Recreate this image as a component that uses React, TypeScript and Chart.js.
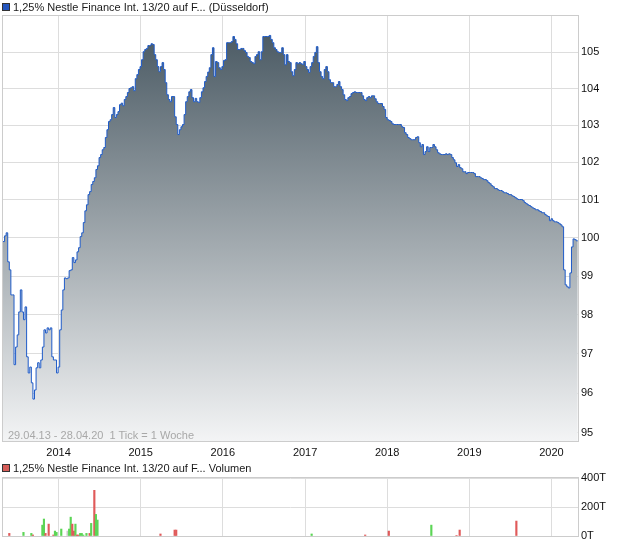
import React, { useEffect, useRef } from "react";
import { Chart, registerables } from "chart.js";

Chart.register(...registerables);

const START = Date.UTC(2013, 3, 29);
const END = Date.UTC(2020, 3, 28);
const WEEK = 7 * 86400000;

const yearTicks = [2014, 2015, 2016, 2017, 2018, 2019, 2020];
const priceTicks = [95, 96, 97, 98, 99, 100, 101, 102, 103, 104, 105];
const volumeTicks = [0, 200, 400];

// weekly closing prices, starting 29.04.2013
const prices = [
  99.9, 100.05, 100.13, 99.37, 99.16, 98.51, 98.51, 96.72, 97.17, 97.48,
  98.07, 98.64, 98.07, 97.87, 98.2, 96.92, 96.51, 96.66, 96.26, 95.85,
  96.08, 96.64, 96.77, 96.64, 96.84, 97.17, 97.61, 97.53, 97.66, 97.61,
  97.66, 96.92, 96.84, 96.84, 96.51, 96.66, 97.61, 98.12, 98.64, 98.95,
  98.93, 98.95, 99.14, 99.16, 99.48, 99.35, 99.42, 99.63, 99.74, 100.03,
  100.13, 100.4, 100.71, 100.87, 101.14, 101.22, 101.41, 101.49, 101.59, 101.81,
  101.91, 102.13, 102.21, 102.34, 102.4, 102.67, 102.88, 103.1, 103.15, 103.29,
  103.48, 103.21, 103.29, 103.37, 103.56, 103.6, 103.53, 103.7, 103.78, 103.89,
  104.0, 104.02, 104.05, 103.94, 104.27, 104.38, 104.52, 104.6, 104.79, 105.01,
  105.07, 105.1, 105.18, 105.18, 105.23, 105.21, 104.93, 104.79, 104.6, 104.46,
  104.6, 104.71, 104.52, 104.16, 103.83, 103.7, 103.64, 103.78, 103.78, 103.23,
  103.02, 102.75, 102.88, 102.96, 103.02, 103.29, 103.64, 103.78, 103.91, 103.97,
  103.75, 103.64, 103.73, 103.64, 103.62, 103.75, 103.91, 104.02, 104.19, 104.33,
  104.45, 104.57, 104.93, 105.12, 104.33, 104.74, 104.71, 104.57, 104.52, 104.6,
  104.77, 104.79, 105.26, 105.26, 105.26, 105.29, 105.43, 105.35, 105.23, 105.07,
  105.07, 105.1, 105.1, 105.04, 104.99, 104.88, 104.85, 104.74, 104.71, 104.68,
  104.88, 104.93, 105.01, 104.79, 105.01, 105.43, 105.43, 105.43, 105.43, 105.46,
  105.35, 105.26, 105.12, 105.07, 105.01, 104.99, 104.99, 105.12, 104.93, 104.65,
  104.93, 104.74, 104.71, 104.46, 104.35, 104.52, 104.71, 104.68, 104.71, 104.68,
  104.66, 104.74, 104.6, 104.52, 104.44, 104.6, 104.71, 104.88, 104.99, 105.15,
  104.71, 104.46, 104.33, 104.27, 104.52, 104.6, 104.46, 104.24, 104.16, 104.16,
  104.05, 104.05, 104.11, 104.19, 104.05, 103.97, 103.83, 103.7, 103.67, 103.75,
  103.78, 103.86, 103.89, 103.91, 103.89, 103.89, 103.89, 103.89, 103.8, 103.7,
  103.67, 103.75, 103.78, 103.75, 103.8, 103.8, 103.72, 103.64, 103.59, 103.59,
  103.59, 103.51, 103.43, 103.21, 103.15, 103.13, 103.1, 103.04, 103.02, 103.02,
  103.02, 103.02, 103.02, 102.96, 102.94, 102.8, 102.75, 102.67, 102.64, 102.61,
  102.61, 102.61, 102.67, 102.69, 102.53, 102.42, 102.48, 102.21, 102.29, 102.42,
  102.29, 102.4, 102.4, 102.48, 102.42, 102.34, 102.26, 102.23, 102.21, 102.21,
  102.21, 102.23, 102.21, 102.23, 102.21, 102.13, 102.07, 101.99, 101.89, 101.94,
  101.86, 101.83, 101.75, 101.75, 101.7, 101.73, 101.73, 101.73, 101.73, 101.7,
  101.62, 101.62, 101.62, 101.59, 101.57, 101.54, 101.54, 101.51, 101.46, 101.43,
  101.38, 101.35, 101.3, 101.3, 101.27, 101.25, 101.25, 101.22, 101.19, 101.19,
  101.17, 101.14, 101.14, 101.11, 101.09, 101.06, 101.03, 101.01, 101.01, 101.01,
  100.98, 100.93, 100.9, 100.87, 100.85, 100.82, 100.79, 100.77, 100.74, 100.74,
  100.71, 100.69, 100.66, 100.66, 100.61, 100.58, 100.56, 100.45, 100.5, 100.45,
  100.42, 100.42, 100.4, 100.37, 100.34, 100.29, 99.16, 98.77, 98.72, 98.69,
  99.08, 99.76, 99.97, 99.95, 99.92, 99.92,
];

// volume bars: week index (from 29.04.2013), volume in thousands, direction
const volumeWeeks = [
  4, 13, 18, 19, 25, 26, 27, 29, 32, 33, 34, 37, 41, 42, 43, 44, 45, 46, 47, 48,
  49, 50, 51, 53, 55, 56, 58, 59, 60, 100, 109, 110, 196, 230, 245, 272, 288, 290, 326,
];
const volumeValues = [
  18, 25, 18, 7, 75, 117, 18, 82, 7, 34, 25, 48, 34, 48, 130, 82, 34, 82, 7, 7,
  18, 18, 7, 18, 18, 87, 315, 149, 110, 14, 41, 41, 14, 7, 34, 75, 3, 41, 103,
];
const volumeDirections = [
  "down", "up", "up", "down", "up", "up", "down", "down", "down", "up", "up", "up", "flat", "up", "up", "down", "down", "up", "down", "down",
  "up", "up", "up", "up", "down", "up", "down", "up", "up", "down", "down", "down", "up", "down", "down", "up", "down", "down", "down",
];

const FONT = "'Liberation Sans', Arial, Helvetica, sans-serif";
const GRID = "#dddddd";
const FRAME = "#cccccc";
const TEXT = "#111111";
const dirColor: Record<string, string> = { up: "#5cd556", down: "#e05a5a", flat: "#c8c8c8" };

const framePlugin = {
  id: "frame",
  afterDraw(chart: any) {
    const { ctx, chartArea: a } = chart;
    ctx.save();
    ctx.strokeStyle = FRAME;
    ctx.lineWidth = 1;
    ctx.strokeRect(Math.round(a.left) - 0.5, Math.round(a.top) - 0.5, Math.round(a.right - a.left) + 1, Math.round(a.bottom - a.top) + 1);
    ctx.restore();
  },
};

export default function App() {
  const mainRef = useRef<HTMLCanvasElement>(null);
  const volRef = useRef<HTMLCanvasElement>(null);

  useEffect(() => {
    const xTicksFn = (s: any) => {
      s.ticks = yearTicks.map((y) => ({ value: Date.UTC(y, 0, 1) }));
    };
    const main = new Chart(mainRef.current as HTMLCanvasElement, {
      type: "line",
      data: {
        datasets: [
          {
            data: prices.map((p, i) => ({ x: START + i * WEEK, y: p })),
            borderColor: "#1f5bc8",
            borderWidth: 1,
            pointRadius: 0,
            stepped: true,
            fill: "start",
            backgroundColor: (c: any) => {
              const a = c.chart.chartArea;
              if (!a) return "#9aa4aa";
              const g = c.chart.ctx.createLinearGradient(0, a.top, 0, a.bottom);
              g.addColorStop(0, "#44545e");
              g.addColorStop(1, "#f3f4f5");
              return g;
            },
          },
        ],
      },
      options: {
        animation: false,
        responsive: false,
        maintainAspectRatio: false,
        layout: { padding: { top: 16, left: 3, right: 0, bottom: 0 } },
        plugins: { legend: { display: false }, tooltip: { enabled: false } },
        scales: {
          x: {
            type: "linear",
            min: START,
            max: END,
            bounds: "data",
            afterBuildTicks: xTicksFn,
            afterFit: (s: any) => {
              s.height = 21;
            },
            ticks: {
              autoSkip: false,
              maxRotation: 0,
              padding: 5,
              color: TEXT,
              font: { family: FONT, size: 11 },
              callback: (v: any) => String(new Date(v).getUTCFullYear()),
            },
            grid: { color: GRID, drawTicks: false },
            border: { display: false },
          },
          y: {
            type: "logarithmic",
            position: "right",
            min: 94.8,
            max: 106.0,
            bounds: "data",
            afterBuildTicks: (s: any) => {
              s.ticks = priceTicks.map((v) => ({ value: v }));
            },
            afterFit: (s: any) => {
              s.width = 42;
            },
            ticks: {
              autoSkip: false,
              padding: 3,
              color: TEXT,
              font: { family: FONT, size: 11 },
              callback: (v: any) => String(v),
            },
            grid: { color: GRID, drawTicks: false },
            border: { display: false },
          },
        },
      },
      plugins: [framePlugin],
    } as any);

    const vol = new Chart(volRef.current as HTMLCanvasElement, {
      type: "bar",
      data: {
        datasets: [
          {
            data: volumeWeeks.map((w, k) => ({ x: START + w * WEEK, y: volumeValues[k] })),
            backgroundColor: volumeDirections.map((d) => dirColor[d]),
            barThickness: 1.5,
            borderWidth: 0,
          },
        ],
      },
      options: {
        animation: false,
        responsive: false,
        maintainAspectRatio: false,
        layout: { padding: { top: 16, left: 3, right: 0, bottom: 0 } },
        plugins: { legend: { display: false }, tooltip: { enabled: false } },
        scales: {
          x: {
            type: "linear",
            min: START,
            max: END,
            offset: false,
            bounds: "data",
            afterBuildTicks: xTicksFn,
            afterFit: (s: any) => {
              s.height = 10;
            },
            ticks: { display: false },
            grid: { color: GRID, drawTicks: false, offset: false },
            border: { display: false },
          },
          y: {
            type: "linear",
            position: "right",
            min: 0,
            max: 400,
            afterBuildTicks: (s: any) => {
              s.ticks = volumeTicks.map((v) => ({ value: v }));
            },
            afterFit: (s: any) => {
              s.width = 42;
            },
            ticks: {
              autoSkip: false,
              padding: 3,
              color: TEXT,
              font: { family: FONT, size: 11 },
              callback: (v: any) => `${v}T`,
            },
            grid: { color: GRID, drawTicks: false },
            border: { display: false },
          },
        },
      },
      plugins: [framePlugin],
    } as any);

    return () => {
      main.destroy();
      vol.destroy();
    };
  }, []);

  const legendText: React.CSSProperties = {
    position: "absolute",
    left: 13,
    fontFamily: FONT,
    fontSize: 11,
    lineHeight: "12px",
    color: "#1a1a1a",
    whiteSpace: "pre",
  };
  const square = (bg: string, top: number): React.CSSProperties => ({
    position: "absolute",
    left: 2,
    top,
    width: 6,
    height: 6,
    background: bg,
    border: "1px solid #333",
  });

  return (
    <div style={{ position: "absolute", left: 0, top: 0, width: 620, height: 546, background: "#fff", overflow: "hidden" }}>
      <canvas ref={mainRef} width={620} height={462} style={{ position: "absolute", left: 0, top: 0 }} />
      <canvas ref={volRef} width={620} height={84} style={{ position: "absolute", left: 0, top: 462 }} />
      <div style={square("#2456be", 3)} />
      <div style={{ ...legendText, top: 1 }}>1,25% Nestle Finance Int. 13/20 auf F... (Düsseldorf)</div>
      <div style={{ ...legendText, left: 8, top: 429, color: "#a8a8a8" }}>29.04.13 - 28.04.20  1 Tick = 1 Woche</div>
      <div style={square("#d65d58", 464)} />
      <div style={{ ...legendText, top: 462 }}>1,25% Nestle Finance Int. 13/20 auf F... Volumen</div>
    </div>
  );
}
